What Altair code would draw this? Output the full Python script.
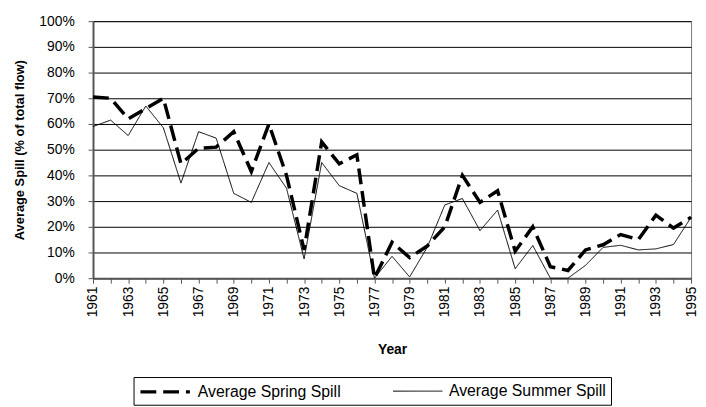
import altair as alt
import pandas as pd

years = list(range(1961, 1996))
spring = [70.5, 70, 62, 66, 70, 44.5, 50.5, 51, 57, 41.5,
          60, 40, 11, 53, 44.5, 48, 0, 14, 8, 12.5,
          20, 40, 29.5, 34, 10.5, 20, 4.5, 3, 11, 13,
          17, 15, 24.5, 19.5, 23.7]
summer = [59, 61.5, 55.5, 67, 58.5, 37, 57, 54.5, 33, 29.5,
          45, 35, 7.5, 45, 36, 33, 0, 8.5, 0.5, 12,
          28.5, 31, 18.5, 26.5, 3.7, 12.7, 0, 0, 5, 12,
          12.8, 11, 11.4, 13.1, 23.7]
series_names = ["Average Spring Spill", "Average Summer Spill"]
y_ticks = list(range(0, 101, 10))

rows = []
for name, vals in zip(series_names, [spring, summer]):
    for yr, v in zip(years, vals):
        rows.append({"Year": yr, "Spill": v, "Series": name})
df = pd.DataFrame(rows)

FONT = "Liberation Sans"

legend = alt.Legend(
    orient="none", legendX=41, legendY=360, direction="horizontal", title=None,
    symbolType="M-1,0H5.25", symbolSize=256, symbolStrokeColor="black",
    labelFont=FONT, labelFontSize=16, labelColor="black", labelOffset=40,
    columnPadding=50, padding=5, strokeColor="black",
)

chart = alt.Chart(df).mark_line(color="black").encode(
    x=alt.X("Year:Q",
            scale=alt.Scale(domain=[1961, 1995], nice=False, zero=False),
            title="Year",
            axis=alt.Axis(values=years, format="d",
                          labelExpr="(datum.value - 1961) % 2 == 0 ? datum.label : ''",
                          labelAngle=270, labelOverlap=False, labelFlush=False,
                          labelFont=FONT, labelFontSize=14, labelColor="black",
                          labelPadding=3, tickSize=5, tickColor="#555",
                          domainColor="#555", domainWidth=2, grid=False,
                          titleFont=FONT, titleFontSize=14, titleFontWeight="bold",
                          titleColor="black", titlePadding=26)),
    y=alt.Y("Spill:Q",
            scale=alt.Scale(domain=[0, 100], nice=False),
            title="Average Spill (% of total flow)",
            axis=alt.Axis(values=y_ticks, labelExpr="datum.value + '%'",
                          labelFont=FONT, labelFontSize=14, labelColor="black",
                          labelPadding=14, tickSize=5, tickColor="#555",
                          domainColor="#555", domainWidth=2,
                          grid=True, gridColor="black", gridWidth=1, gridOpacity=1,
                          titleFont=FONT, titleFontSize=13, titleFontWeight="bold",
                          titleColor="black", titlePadding=13)),
    strokeDash=alt.StrokeDash("Series:N",
                              scale=alt.Scale(domain=series_names, range=[[16, 7], [1, 0]]),
                              legend=legend),
    strokeWidth=alt.StrokeWidth("Series:N",
                                scale=alt.Scale(domain=series_names, range=[3.5, 1]),
                                legend=legend),
).properties(
    width=605, height=260,
    autosize=alt.AutoSizeParams(type="none"),
    padding={"left": 86, "top": 11, "right": 7, "bottom": 130},
).configure_view(stroke="#777", strokeWidth=1)

chart.save("out.html", embed_options={"renderer": "svg", "actions": False})
